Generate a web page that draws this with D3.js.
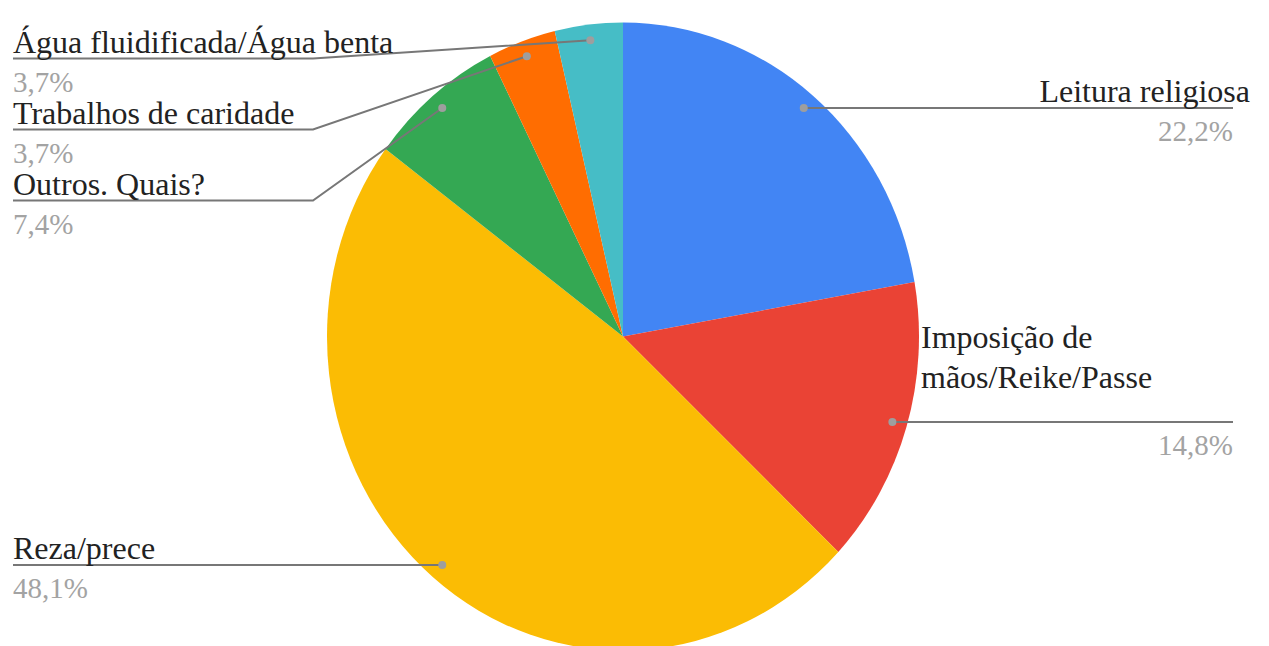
<!DOCTYPE html>
<html>
<head>
<meta charset="utf-8">
<script src="https://cdn.jsdelivr.net/npm/d3@7"></script>
<style>
  html, body { margin: 0; padding: 0; background: #fff; }
  svg { display: block; }
</style>
</head>
<body>
<svg id="chart" width="1269" height="646"></svg>
<script>
// Categories and their shares (%), in clockwise order starting at 12 o'clock
const categories = [
  "Leitura religiosa",
  "Imposição de mãos/Reike/Passe",
  "Reza/prece",
  "Outros. Quais?",
  "Trabalhos de caridade",
  "Água fluidificada/Água benta"
];
const shares = [22.2, 14.8, 48.1, 7.4, 3.7, 3.7];
const colors = ["#4285F4", "#EA4335", "#FBBC04", "#34A853", "#FF6D01", "#46BDC6"];

// Label placement: side, y of the horizontal leader segment (null = level with the dot),
// and the wrapped lines of each label
const labelLayout = [
  { side: "right", lineY: null, lines: ["Leitura religiosa"], anchor: "end", textX: 1250 },
  { side: "right", lineY: null, lines: ["Imposição de", "mãos/Reike/Passe"], anchor: "start", textX: 921, firstBaseline: 348 },
  { side: "left",  lineY: null, lines: ["Reza/prece"] },
  { side: "left",  lineY: 200.5, lines: ["Outros. Quais?"] },
  { side: "left",  lineY: 129.5, lines: ["Trabalhos de caridade"] },
  { side: "left",  lineY: 58.5, lines: ["Água fluidificada/Água benta"] }
];

const FONT = "'Liberation Serif', 'Times New Roman', Tinos, 'DejaVu Serif', serif";

const svg = d3.select("#chart");
const cx = 623, cy = 336.5, rx = 296, ry = 314;
const leftX = 13, elbowX = 313, rightX = 1233;

const data = categories.map((c, i) => ({ name: c, value: shares[i], color: colors[i], layout: labelLayout[i] }));

const pie = d3.pie().value(d => d.value).sort(null);
const arcs = pie(data);
const arc = d3.arc().innerRadius(0).outerRadius(rx);

// Pie (drawn as a circle and stretched vertically into the ellipse)
svg.append("g")
  .attr("transform", `translate(${cx},${cy}) scale(1,${ry / rx})`)
  .selectAll("path")
  .data(arcs)
  .join("path")
  .attr("d", arc)
  .attr("fill", d => d.data.color);

const fmt = v => d3.format(".1f")(v).replace(".", ",") + "%";

const lab = svg.append("g").attr("font-family", FONT).style("font-family", FONT);
arcs.forEach(a => {
  const mid = (a.startAngle + a.endAngle) / 2;
  const px = cx + 0.95 * rx * Math.sin(mid);
  const py = cy - 0.95 * ry * Math.cos(mid);
  const L = a.data.layout;
  const ly = L.lineY == null ? py : L.lineY;

  let pts;
  if (L.side === "right") {
    pts = [[px, py], [rightX, ly]];
  } else if (L.lineY == null) {
    pts = [[px, py], [leftX, ly]];
  } else {
    pts = [[px, py], [elbowX, ly], [leftX, ly]];
  }
  lab.append("path")
    .attr("d", d3.line()(pts))
    .attr("fill", "none")
    .attr("stroke", "#777")
    .attr("stroke-width", 2);
  lab.append("circle")
    .attr("cx", px).attr("cy", py).attr("r", 4)
    .attr("fill", "#9e9e9e");

  // Category label and its percentage
  if (L.side === "right") {
    const t = lab.append("text")
      .attr("font-size", 32)
      .attr("fill", "#222")
      .attr("text-anchor", L.anchor);
    L.lines.forEach((s, k) => {
      t.append("tspan")
        .attr("x", L.textX)
        .attr("y", L.firstBaseline != null ? L.firstBaseline + k * 40 : ly - 6)
        .text(s);
    });
    lab.append("text")
      .attr("x", rightX).attr("y", ly + 33)
      .attr("text-anchor", "end")
      .attr("font-size", 29)
      .attr("fill", "#a3a3a3")
      .text(fmt(a.data.value));
  } else {
    lab.append("text")
      .attr("x", leftX).attr("y", ly - 6)
      .attr("font-size", 32)
      .attr("fill", "#222")
      .text(L.lines[0]);
    lab.append("text")
      .attr("x", leftX).attr("y", ly + 33)
      .attr("font-size", 29)
      .attr("fill", "#a3a3a3")
      .text(fmt(a.data.value));
  }
});
</script>
</body>
</html>
